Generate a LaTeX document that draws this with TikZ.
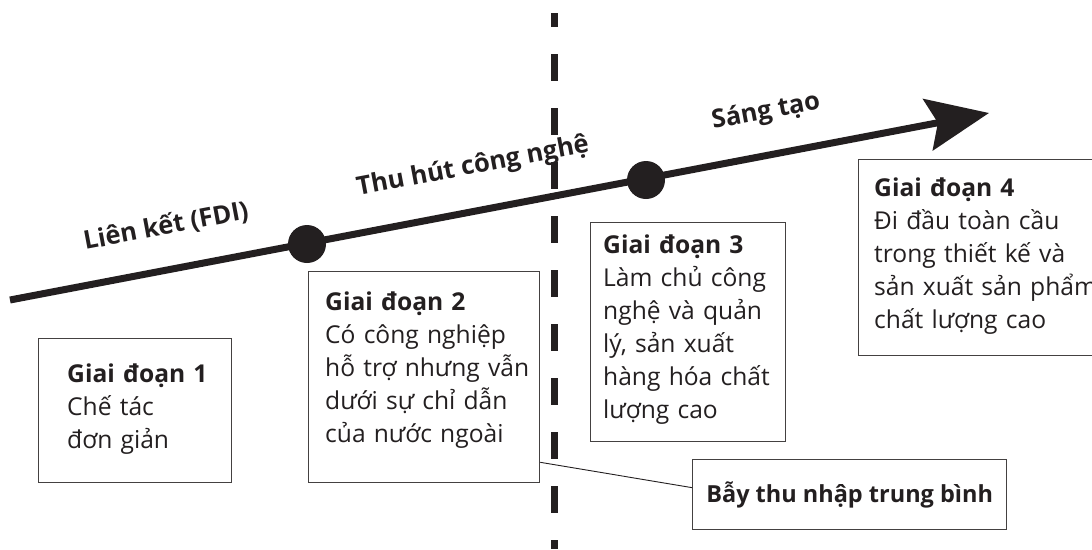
\documentclass[tikz,border=0pt]{standalone}
\usepackage{fontspec}
\setmainfont{Open Sans}
\usetikzlibrary{arrows.meta,calc}
\definecolor{ink}{HTML}{231F20}
\begin{document}
\begin{tikzpicture}[x=1pt,y=-1pt,
  stagebox/.style={draw=ink!85, line width=1.3pt, anchor=north west, inner sep=0pt},
  stagetxt/.style={anchor=base west, inner sep=0pt, text width=#1, align=left,
    font=\fontsize{24.6}{33}\selectfont, text=ink},
  linelbl/.style={font=\bfseries\fontsize{25.5}{28}\selectfont, text=ink, rotate=10.7, inner sep=0pt},
  bigdot/.style={circle, fill=ink, minimum size=38pt, inner sep=0pt},
]
\useasboundingbox (0,0) rectangle (1092,549);

% main timeline
\coordinate (start) at (10,300);
\coordinate (tip) at (989,113);
\draw[ink, line width=7pt, -{Stealth[length=62pt, width=52pt, inset=10pt]}] (start) -- (tip);
\node[bigdot] (d1) at (307,244) {};
\node[bigdot] (d2) at (646,180) {};

% labels on the line
\node[linelbl] (l1) at (166,226) {Liên kết (FDI)};
\node[linelbl] (l2) at (473,167) {Thu hút công nghệ};
\node[linelbl] (l3) at (766,112) {Sáng tạo};

% dashed divider
\coordinate (dtop) at (554,13);
\coordinate (dbot) at (554,549);
\draw[ink, line width=7pt, dash pattern=on 27pt off 27pt, dash phase=13pt] (dtop) -- (dbot);

% stage boxes
\node[stagebox, minimum width=193pt, minimum height=144pt] (b1) at (38,338) {};
\node[stagetxt=170pt] (t1) at (67,382) {\textbf{Giai đoạn 1}\\Chế tác\\đơn giản};

\node[stagebox, minimum width=231pt, minimum height=211pt] (b2) at (308,271) {};
\node[stagetxt=220pt] (t2) at (325,310) {\textbf{Giai đoạn 2}\\Có công nghiệp\\hỗ trợ nhưng vẫn\\dưới sự chỉ dẫn\\của nước ngoài};

\node[stagebox, minimum width=195pt, minimum height=219pt] (b3) at (590,222) {};
\node[stagetxt=185pt] (t3) at (603,253) {\textbf{Giai đoạn 3}\\Làm chủ công\\nghệ và quản\\lý, sản xuất\\hàng hóa chất\\lượng cao};

\node[stagebox, minimum width=260pt, minimum height=196pt] (b4) at (858,159) {};
\node[stagetxt=240pt] (t4) at (874,196) {\textbf{Giai đoạn 4}\\Đi đầu toàn cầu\\trong thiết kế và\\sản xuất sản phẩm\\chất lượng cao};

% middle income trap
\node[stagebox, minimum width=314pt, minimum height=70pt] (trap) at (692,459) {};
\node[font=\bfseries\fontsize{23.5}{30}\selectfont, text=ink, inner sep=0pt] (traptxt) at (trap.center) {Bẫy thu nhập trung bình};

\draw[ink, line width=0.9pt] ($(b2.south east)+(0,-21)$) -- ($(trap.west)+(0,-7)$);
\end{tikzpicture}
\end{document}
